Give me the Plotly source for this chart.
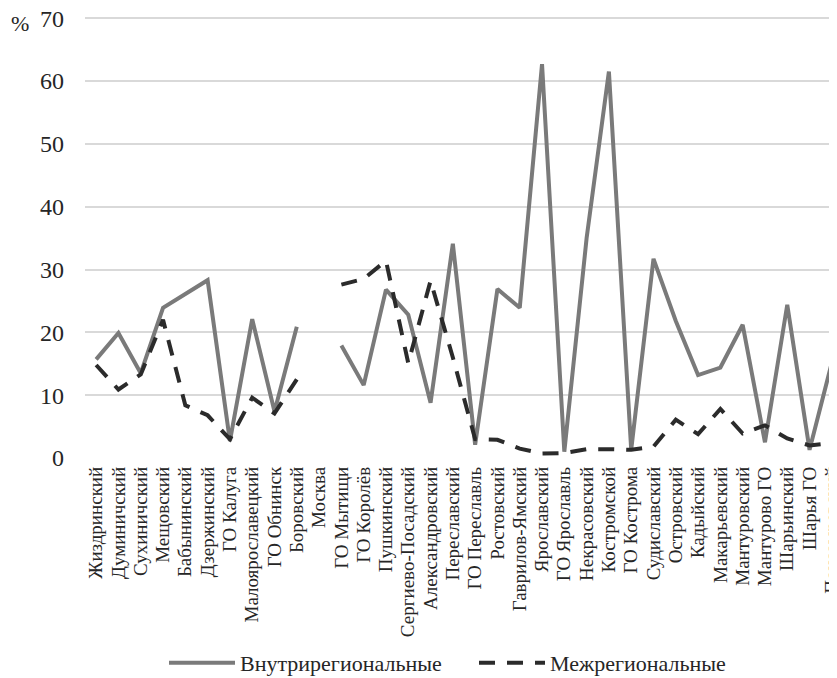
import plotly.graph_objects as go

categories = ["Жиздринский", "Думиничский", "Сухиничский", "Мещовский", "Бабынинский",
              "Дзержинский", "ГО Калуга", "Малоярославецкий", "ГО Обнинск", "Боровский",
              "Москва", "ГО Мытищи", "ГО Королёв", "Пушкинский", "Сергиево-Посадский",
              "Александровский", "Переславский", "ГО Переславль", "Ростовский",
              "Гаврилов-Ямский", "Ярославский", "ГО Ярославль", "Некрасовский",
              "Костромской", "ГО Кострома", "Судиславский", "Островский", "Кадыйский",
              "Макарьевский", "Мантуровский", "Мантурово ГО", "Шарьинский", "Шарья ГО",
              "Поназыревский"]

intra = [15.7, 19.9, 13.5, 23.9, 26.1, 28.3, 2.7, 22.1, 7.4, 20.9,
         None, 17.9, 11.6, 26.8, 22.8, 8.8, 34.1, 2.1, 26.9, 23.9,
         62.7, 1.0, 35.0, 61.5, 1.3, 31.7, 21.8, 13.2, 14.4, 21.2,
         2.5, 24.4, 1.3, 15.2]

inter = [14.8, 10.9, 13.3, 22.0, 8.4, 6.8, 3.0, 9.6, 7.1, 12.5,
         None, 27.6, 28.5, 31.4, 15.1, 28.2, 16.0, 3.0, 2.9, 1.5,
         0.7, 0.8, 1.4, 1.4, 1.3, 1.8, 6.1, 3.8, 7.8, 3.9,
         5.2, 3.1, 2.0, 2.4]

series_names = ["Внутрирегиональные", "Межрегиональные"]
y_ticks = [0, 10, 20, 30, 40, 50, 60, 70]

FONT = "Liberation Serif"

fig = go.Figure()
fig.add_trace(go.Scatter(
    x=list(range(len(categories))), y=intra, mode="lines", name=series_names[0],
    line=dict(color="#7a7a7a", width=4), connectgaps=False,
))
fig.add_trace(go.Scatter(
    x=list(range(len(categories))), y=inter, mode="lines", name=series_names[1],
    line=dict(color="#2b2b2b", width=4, dash="16px,12px"), connectgaps=False,
))

fig.update_layout(
    width=837, height=678,
    margin=dict(l=77, r=2, t=8, b=228, autoexpand=False),
    plot_bgcolor="white", paper_bgcolor="white",
    font=dict(family=FONT, color="#262626"),
    showlegend=True,
    legend=dict(
        orientation="h", xref="container", yref="container",
        x=156 / 837, xanchor="left", y=1 - 655 / 678, yanchor="middle",
        font=dict(family=FONT, size=22, color="#262626"),
        itemwidth=66, traceorder="normal", entrywidth=229,
    ),
    xaxis=dict(
        tickmode="array", tickvals=list(range(len(categories))), ticktext=categories,
        range=[-0.5, 33.5], tickangle=-90, showgrid=False, zeroline=False,
        showline=False, tickfont=dict(family=FONT, size=19, color="#262626"),
        ticks="", ticklabelstandoff=4, automargin=False, ticklabeloverflow="allow",
    ),
    yaxis=dict(
        range=[0, 70.35], tickvals=y_ticks, showgrid=True, gridcolor="#d9d9d9",
        gridwidth=1.5, zeroline=False, showline=False,
        tickfont=dict(family=FONT, size=24, color="#262626"),
        ticks="", ticklabelstandoff=20, automargin=False, ticklabeloverflow="allow",
    ),
    annotations=[dict(
        text="%", xref="paper", yref="paper", x=-0.0858, y=0.982,
        xanchor="center", yanchor="middle", showarrow=False,
        font=dict(family=FONT, size=22, color="#262626"),
    )],
)

fig.write_html("out.html")
